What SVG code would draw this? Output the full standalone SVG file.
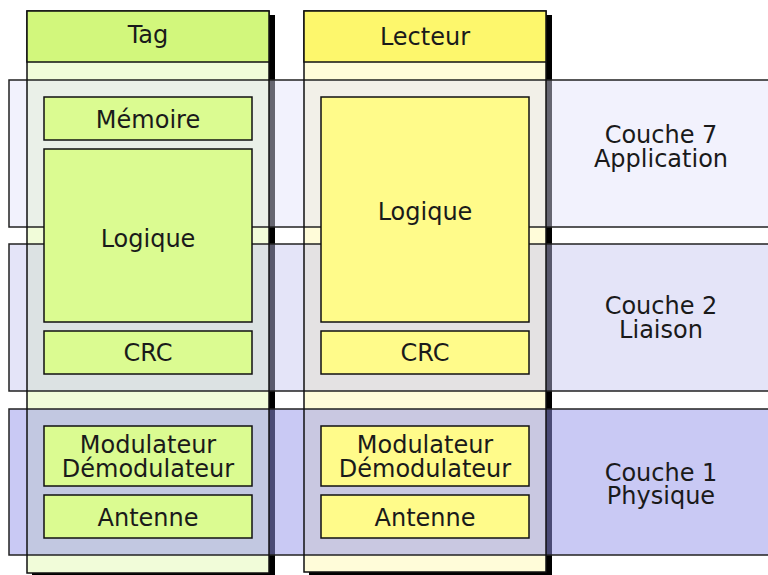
<svg xmlns="http://www.w3.org/2000/svg" width="768" height="575" viewBox="0 0 768 575">
<style>
text{font-family:"DejaVu Sans","Liberation Sans",sans-serif;font-size:24px;fill:#1a1a1a;text-anchor:middle}
.shadow{fill:#000}
.colT{fill:#f1fcd9;stroke:none}
.colL{fill:#fffcd9;stroke:none}
.outline{fill:none;stroke:#111;stroke-width:1.5}
.band{stroke:#222;stroke-width:1.5}
.b7{fill:#e2e2fa;fill-opacity:0.45}
.b2{fill:#c4c4f0;fill-opacity:0.45}
.b1{fill:#9494ea;fill-opacity:0.5}
.hT{fill:#d2f77c;stroke:#111;stroke-width:1.5}
.hL{fill:#fdf76c;stroke:#111;stroke-width:1.5}
.bT{fill:#dbfb91;stroke:#111;stroke-width:1.5}
.bL{fill:#fffb8a;stroke:#111;stroke-width:1.5}
</style>
<g id="columns-bg">
<rect class="shadow" x="32" y="15" width="243" height="562"/>
<rect class="shadow" x="309" y="15" width="243" height="562"/>
<rect class="colT" x="27" y="11" width="242" height="562"/>
<rect class="colL" x="304" y="11" width="242" height="561"/>
</g>
<g id="couche7">
<rect class="band b7" x="9" y="80" width="770" height="147"/>
<text x="661" y="143">Couche 7</text>
<text x="661" y="167">Application</text>
</g>
<g id="couche2">
<rect class="band b2" x="9" y="244" width="770" height="147"/>
<text x="661" y="314">Couche 2</text>
<text x="661" y="338">Liaison</text>
</g>
<g id="couche1">
<rect class="band b1" x="9" y="409" width="770" height="146"/>
<text x="661" y="481">Couche 1</text>
<text x="661" y="504">Physique</text>
</g>
<g id="column-outlines">
<rect class="outline" x="27" y="11" width="242" height="562"/>
<rect class="outline" x="304" y="11" width="242" height="561"/>
</g>
<g id="tag">
<rect class="hT" x="27" y="11" width="242" height="51"/>
<text x="148" y="43">Tag</text>
</g>
<g id="lecteur">
<rect class="hL" x="304" y="11" width="242" height="51"/>
<text x="425" y="45">Lecteur</text>
</g>
<g id="tag-memoire">
<rect class="bT" x="44" y="97" width="208" height="43"/>
<text x="148" y="128">Mémoire</text>
</g>
<g id="tag-logique">
<rect class="bT" x="44" y="149" width="208" height="173"/>
<text x="148" y="247">Logique</text>
</g>
<g id="tag-crc">
<rect class="bT" x="44" y="331" width="208" height="43"/>
<text x="148" y="361">CRC</text>
</g>
<g id="tag-modulateur">
<rect class="bT" x="44" y="426" width="208" height="60"/>
<text x="148" y="453">Modulateur</text>
<text x="148" y="477">Démodulateur</text>
</g>
<g id="tag-antenne">
<rect class="bT" x="44" y="495" width="208" height="43"/>
<text x="148" y="526">Antenne</text>
</g>
<g id="lecteur-logique">
<rect class="bL" x="321" y="97" width="208" height="225"/>
<text x="425" y="220">Logique</text>
</g>
<g id="lecteur-crc">
<rect class="bL" x="321" y="331" width="208" height="43"/>
<text x="425" y="361">CRC</text>
</g>
<g id="lecteur-modulateur">
<rect class="bL" x="321" y="426" width="208" height="60"/>
<text x="425" y="453">Modulateur</text>
<text x="425" y="477">Démodulateur</text>
</g>
<g id="lecteur-antenne">
<rect class="bL" x="321" y="495" width="208" height="43"/>
<text x="425" y="526">Antenne</text>
</g>
<g id="connectors"/>
</svg>
